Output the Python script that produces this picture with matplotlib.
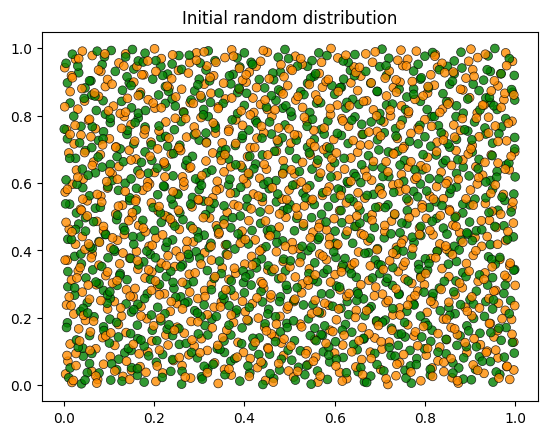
import numpy as np
import matplotlib
matplotlib.use("Agg")
import matplotlib.pyplot as plt

# agent positions (x, y pairs, in thousandths)
orange_xy = [
    4,33, 18,8, 62,41, 75,17, 131,26, 150,44, 204,11, 219,36, 281,21, 342,5, 356,47, 371,30, 447,14, 498,42, 509,24, 563,9, 611,38, 627,19, 702,46, 718,2, 736,28, 791,13, 842,40, 860,22, 874,6, 931,35, 988,17, 997,45,
    9,71, 27,94, 88,62, 103,85, 169,55, 186,99, 243,73, 262,58, 277,90, 334,66, 398,97, 413,79, 429,52, 487,88, 541,61, 558,83, 600,95, 647,54, 660,76, 679,98, 744,67, 803,89, 816,51, 829,72, 893,97, 907,60, 962,81, 981,55,
    14,122, 71,108, 86,141, 113,118, 195,131, 212,104, 226,149, 289,116, 305,138, 318,103, 386,127, 452,111, 467,144, 482,125, 539,102, 556,136, 618,119, 689,140, 705,107, 721,128, 776,146, 833,113, 848,135, 923,120, 938,101, 953,143, 997,128,
    33,167, 48,192, 59,158, 121,180, 138,156, 184,197, 251,172, 267,154, 282,189, 361,163, 376,186, 431,199, 445,172, 460,152, 524,181, 590,163, 604,194, 661,171, 676,152, 693,188, 762,179, 779,158, 841,196, 858,171, 872,150, 945,183, 961,162, 992,195,
    6,238, 22,211, 97,226, 112,248, 128,205, 171,233, 236,219, 251,242, 318,209, 333,231, 349,247, 402,218, 418,242, 479,204, 495,226, 510,248, 571,214, 587,237, 648,222, 714,245, 729,208, 744,229, 805,216, 820,241, 889,231, 904,206, 963,243, 978,222,
    41,276, 57,255, 72,298, 139,283, 154,262, 208,294, 223,271, 297,257, 312,281, 327,299, 378,265, 443,288, 458,259, 527,274, 542,297, 557,252, 612,283, 627,263, 691,291, 706,270, 769,255, 784,279, 799,298, 867,268, 883,289, 942,257, 957,281, 1000,296,
    17,312, 32,339, 93,325, 108,303, 164,344, 180,318, 195,336, 263,305, 278,329, 351,348, 366,314, 381,332, 437,307, 452,342, 513,321, 528,300, 544,345, 601,328, 616,349, 676,311, 741,337, 756,315, 771,302, 838,346, 853,322, 918,308, 933,333, 982,318,
    8,371, 63,389, 78,356, 146,377, 161,397, 216,362, 231,384, 246,352, 312,393, 327,371, 401,359, 416,382, 471,396, 486,367, 501,351, 567,389, 582,372, 638,357, 653,395, 722,369, 737,388, 752,354, 813,376, 828,398, 892,361, 907,385, 966,373, 988,355,
    26,418, 41,441, 104,407, 119,430, 134,447, 189,412, 204,436, 272,403, 287,425, 343,448, 358,416, 424,431, 439,404, 454,446, 506,423, 521,405, 589,437, 604,414, 659,449, 674,428, 737,409, 752,432, 818,446, 833,419, 848,403, 911,438, 926,412, 979,429,
    12,463, 73,486, 88,458, 151,499, 166,474, 181,455, 241,481, 256,462, 323,496, 338,473, 395,457, 410,488, 477,469, 492,498, 552,454, 567,479, 582,461, 633,492, 648,471, 711,456, 726,487, 788,466, 803,495, 862,475, 877,453, 943,489, 958,468, 996,481,
    37,522, 52,547, 115,508, 130,534, 194,541, 209,517, 224,503, 284,529, 299,549, 362,513, 377,536, 440,545, 455,521, 518,504, 533,532, 548,547, 611,518, 626,541, 683,506, 698,529, 764,546, 779,512, 794,535, 854,521, 869,501, 934,539, 949,516, 993,528,
    3,573, 19,596, 82,561, 97,585, 160,552, 175,578, 190,597, 251,569, 266,591, 330,556, 345,583, 405,598, 420,567, 484,552, 499,579, 514,596, 573,563, 588,588, 652,571, 667,555, 729,594, 744,576, 811,561, 826,589, 841,553, 901,579, 916,597, 974,566,
    28,638, 43,612, 107,627, 122,649, 186,603, 201,631, 263,618, 278,644, 340,605, 355,633, 370,648, 434,614, 449,641, 511,627, 526,603, 591,646, 606,621, 667,637, 682,608, 748,625, 763,647, 778,611, 836,632, 851,606, 913,648, 928,623, 987,639,
    11,689, 66,662, 81,684, 145,697, 160,671, 223,657, 238,686, 253,699, 315,665, 330,689, 392,652, 407,678, 471,694, 486,666, 546,683, 561,658, 576,699, 636,674, 651,691, 714,663, 729,688, 791,651, 806,676, 869,696, 884,668, 947,683, 962,659, 999,692,
    23,716, 38,742, 101,731, 116,707, 178,745, 193,721, 257,703, 272,736, 336,748, 351,719, 413,705, 428,733, 443,749, 503,718, 518,741, 583,707, 598,729, 661,744, 676,713, 739,732, 754,708, 769,747, 827,721, 842,743, 905,711, 920,737, 981,725,
    6,758, 55,786, 70,761, 134,797, 149,773, 211,754, 226,781, 289,766, 304,794, 366,759, 381,787, 396,771, 461,798, 476,763, 539,782, 554,756, 616,791, 631,768, 694,753, 709,781, 724,799, 785,764, 800,788, 864,772, 879,756, 941,795, 956,769, 993,783,
    31,819, 46,843, 110,828, 125,806, 187,847, 202,822, 265,811, 280,838, 343,826, 358,849, 421,809, 436,833, 451,818, 514,846, 529,824, 591,803, 606,831, 671,844, 686,817, 748,829, 763,806, 778,848, 839,819, 854,840, 916,808, 931,831, 975,847,
    14,871, 77,857, 92,886, 155,899, 170,869, 233,882, 248,855, 311,893, 326,866, 389,878, 404,899, 419,852, 481,871, 496,889, 558,861, 573,884, 636,897, 651,874, 715,858, 730,883, 745,899, 806,867, 821,890, 884,876, 899,853, 962,888, 977,866,
    2,942, 17,918, 82,931, 97,907, 162,946, 177,921, 239,909, 254,934, 317,947, 332,918, 396,905, 411,929, 426,946, 488,915, 503,938, 566,925, 581,901, 643,944, 658,917, 721,932, 736,906, 751,948, 813,921, 828,943, 891,911, 906,936, 968,924,
    26,967, 41,991, 63,978, 122,956, 137,983, 201,998, 216,969, 279,957, 294,986, 357,972, 372,995, 436,961, 451,988, 513,976, 528,952, 592,999, 607,971, 669,983, 684,958, 747,994, 762,967, 823,981, 838,955, 902,997, 917,972, 979,986, 994,961,
    21,14, 7,88, 35,131, 44,207, 12,262, 29,318, 3,371, 47,403, 18,455, 39,519, 8,581, 31,617, 46,690, 14,744, 25,771, 2,826, 40,880, 19,912, 33,969, 42,552, 27,58, 5,483, 36,349, 16,236,
    71,27, 58,103, 93,146, 66,190, 82,251, 54,297, 97,336, 61,378, 79,424, 88,471, 52,502, 74,566, 95,604, 63,652, 86,713, 57,789, 99,814, 68,867, 77,935, 91,983, 60,737, 84,543, 73,6, 55,419,
    113,42, 139,71, 104,155, 126,229, 147,264, 118,310, 131,392, 108,437, 144,488, 121,531, 136,575, 102,633, 149,668, 115,706, 128,762, 141,851, 107,893, 133,947, 146,17, 119,611, 137,810, 124,360,
    167,93, 182,38, 154,121, 199,176, 171,205, 158,287, 188,342, 163,369, 196,415, 176,466, 152,512, 185,588, 169,626, 191,679, 157,724, 180,758, 198,837, 165,859, 173,921, 186,962, 159,546, 194,281,
    207,57, 231,119, 245,163, 214,199, 238,248, 203,309, 227,355, 249,398, 219,446, 236,493, 211,530, 242,574, 224,618, 208,701, 233,733, 247,792, 216,823, 229,887, 204,931, 241,980, 222,662, 212,268,
    269,24, 256,82, 284,134, 297,188, 263,226, 279,276, 291,333, 258,381, 273,427, 286,464, 254,519, 298,551, 266,603, 281,647, 259,696, 293,747, 270,791, 287,836, 261,878, 276,926, 294,964, 255,705,
    318,37, 302,96, 341,118, 329,170, 347,232, 313,263, 335,322, 304,359, 326,412, 344,452, 309,497, 321,545, 338,578, 306,622, 349,667, 316,719, 331,778, 342,821, 303,859, 324,913, 337,958, 311,989,
    366,48, 384,83, 352,141, 371,208, 396,249, 359,283, 378,347, 363,386, 391,421, 355,478, 387,531, 369,569, 398,612, 357,684, 381,717, 365,753, 393,814, 372,852, 354,896, 389,940, 376,976,
    411,26, 437,69, 424,127, 449,161, 406,194, 428,259, 441,301, 418,356, 434,398, 402,432, 447,487, 415,523, 431,561, 409,629, 444,655, 423,705, 438,768, 413,802, 446,846, 427,883, 404,921, 442,993,
    464,9, 476,64, 453,108, 488,137, 471,181, 497,234, 459,268, 483,319, 466,344, 491,412, 457,443, 478,508, 494,551, 462,586, 485,627, 452,683, 473,727, 499,761, 468,817, 486,864, 455,909, 481,951,
    518,41, 536,93, 503,116, 527,173, 549,212, 512,255, 541,311, 523,364, 507,402, 546,437, 531,479, 515,526, 538,584, 504,639, 529,661, 547,719, 511,743, 533,795, 519,857, 544,892, 506,934, 525,969,
    568,27, 553,71, 581,124, 596,159, 562,219, 578,243, 591,306, 557,327, 574,383, 588,417, 565,468, 599,494, 551,551, 583,575, 569,629, 594,672, 556,708, 577,763, 590,821, 563,846, 586,907, 571,958,
    617,12, 603,57, 638,99, 621,148, 646,201, 609,226, 632,272, 615,336, 644,363, 607,418, 628,457, 649,502, 613,563, 636,605, 622,641, 604,689, 641,726, 618,784, 633,829, 608,871, 647,928, 625,979,
    662,31, 681,79, 654,132, 697,177, 671,221, 688,265, 658,298, 679,354, 694,402, 665,445, 683,489, 652,532, 699,579, 671,619, 686,664, 657,712, 676,751, 693,799, 664,842, 681,897, 655,943, 690,989,
    714,19, 738,62, 703,129, 727,163, 745,208, 719,251, 736,286, 708,343, 729,392, 748,421, 711,474, 733,508, 705,567, 742,598, 718,633, 731,686, 702,739, 746,772, 723,816, 737,869, 712,911, 740,964,
    769,39, 753,91, 784,117, 797,174, 762,237, 778,266, 791,319, 756,365, 773,406, 788,447, 765,497, 794,526, 758,581, 782,617, 769,663, 751,702, 787,758, 764,812, 796,858, 772,901, 759,947, 781,991,
    817,26, 842,68, 806,109, 829,153, 848,196, 813,249, 836,284, 802,331, 824,378, 846,413, 811,459, 834,503, 819,552, 847,598, 803,644, 826,693, 841,727, 815,768, 833,809, 807,886, 844,927, 822,976,
    872,13, 858,79, 889,126, 866,167, 894,219, 853,246, 877,303, 898,338, 861,387, 884,424, 869,471, 855,517, 891,553, 874,611, 859,652, 896,686, 866,736, 883,791, 851,834, 879,878, 863,929, 897,961,
    917,44, 936,97, 909,138, 943,183, 921,229, 904,262, 931,314, 949,351, 913,399, 938,441, 925,488, 907,534, 946,569, 919,616, 933,661, 902,701, 941,748, 914,792, 928,831, 947,873, 909,916, 934,982,
    964,21, 982,56, 957,104, 993,151, 971,197, 999,236, 953,279, 977,326, 989,362, 961,418, 984,456, 968,507, 995,543, 956,594, 978,641, 991,679, 962,723, 985,777, 969,824, 997,861, 954,903, 981,948,
]

green_xy = [
    11,22, 39,4, 52,37, 104,15, 117,46, 163,29, 178,9, 237,41, 261,3, 305,25, 319,48, 390,12, 412,36, 465,20, 478,45, 534,31, 548,3, 584,17, 652,40, 666,10, 680,27, 756,44, 770,6, 812,30, 885,18, 912,47, 951,9, 966,32,
    43,86, 57,64, 122,77, 135,96, 150,52, 205,68, 219,91, 296,81, 311,56, 356,97, 370,71, 441,63, 456,92, 505,74, 520,53, 575,99, 589,69, 619,82, 694,61, 725,88, 768,57, 782,79, 847,93, 862,66, 875,51, 921,84, 945,70, 998,95,
    28,134, 42,110, 57,147, 101,125, 149,103, 164,138, 178,116, 241,147, 256,121, 340,108, 355,131, 370,149, 419,116, 433,140, 497,104, 511,132, 573,148, 587,113, 602,129, 650,105, 665,137, 741,118, 756,143, 799,108, 813,130, 878,146, 892,114, 969,133,
    8,185, 88,173, 102,196, 148,153, 163,178, 215,191, 229,166, 298,152, 313,177, 328,196, 395,170, 409,191, 480,158, 494,183, 542,197, 556,169, 570,150, 624,180, 638,157, 712,193, 726,169, 741,151, 801,186, 816,163, 893,176, 908,198, 922,154, 980,171,
    37,219, 52,245, 67,203, 150,217, 164,240, 194,208, 208,231, 275,247, 290,221, 304,203, 366,236, 381,214, 440,247, 454,225, 469,203, 552,239, 566,215, 614,228, 628,248, 667,206, 681,233, 760,219, 775,241, 790,205, 853,231, 867,212, 935,248, 950,226,
    9,292, 24,267, 88,281, 103,258, 118,296, 185,271, 244,287, 259,262, 273,299, 355,256, 370,282, 400,274, 415,297, 480,262, 495,284, 510,251, 590,271, 604,294, 650,278, 664,256, 728,296, 743,271, 817,262, 832,288, 900,254, 914,279, 975,272, 990,251,
    49,318, 64,342, 78,301, 125,331, 140,313, 212,347, 227,322, 242,305, 318,340, 333,317, 398,304, 412,329, 427,348, 476,316, 491,339, 562,307, 576,332, 633,345, 648,320, 700,331, 714,306, 729,349, 791,324, 806,341, 869,309, 884,334, 950,319, 999,343,
    24,382, 39,360, 98,378, 113,397, 177,366, 192,388, 263,357, 278,377, 293,396, 345,368, 360,389, 438,375, 453,354, 526,381, 541,399, 556,363, 603,379, 618,357, 675,393, 690,371, 771,386, 786,358, 801,375, 855,394, 870,367, 941,381, 956,359,
    9,433, 63,406, 78,426, 92,447, 155,418, 170,440, 226,409, 241,431, 311,445, 326,421, 379,404, 394,438, 409,419, 470,447, 485,428, 548,409, 563,432, 625,446, 640,421, 695,405, 710,437, 776,423, 791,444, 865,412, 880,431, 895,448, 945,417, 996,440,
    33,478, 48,457, 117,491, 132,468, 201,459, 216,483, 231,499, 281,472, 296,455, 355,491, 370,467, 436,480, 451,459, 516,495, 531,472, 601,457, 616,482, 673,497, 688,468, 745,452, 760,479, 826,495, 841,466, 899,484, 914,458, 975,473,
    13,537, 28,511, 70,525, 146,548, 161,520, 242,536, 257,511, 310,546, 325,524, 391,502, 406,530, 471,544, 486,518, 501,536, 571,507, 586,530, 641,545, 656,519, 718,535, 733,506, 810,527, 825,544, 884,511, 899,535, 962,519, 977,548,
    42,586, 57,562, 121,578, 136,599, 208,565, 223,589, 285,557, 300,580, 365,594, 380,571, 440,557, 455,583, 530,570, 545,592, 600,555, 615,578, 630,599, 686,566, 701,586, 760,553, 775,575, 790,597, 855,569, 870,588, 935,556, 950,581, 997,567,
    5,609, 70,630, 85,647, 149,612, 164,636, 227,648, 242,621, 301,606, 316,630, 395,645, 410,624, 470,607, 485,629, 550,641, 565,617, 628,604, 643,628, 705,645, 720,619, 795,639, 810,613, 870,628, 885,647, 945,607, 960,634, 1000,618,
    26,673, 48,696, 103,655, 118,678, 180,692, 195,667, 270,653, 285,679, 350,696, 365,671, 425,656, 440,683, 500,697, 515,672, 585,686, 600,660, 660,654, 675,681, 740,694, 755,667, 825,683, 840,659, 905,692, 920,670, 980,653,
    8,731, 62,705, 77,726, 140,744, 155,716, 215,735, 230,709, 300,727, 315,748, 380,711, 395,732, 460,745, 475,720, 540,706, 555,729, 615,741, 630,717, 695,728, 710,749, 785,716, 800,737, 855,706, 870,729, 935,745, 950,718, 999,735,
    38,768, 88,752, 103,779, 165,793, 180,766, 245,758, 260,782, 320,797, 335,771, 410,757, 425,785, 490,772, 505,798, 570,759, 585,784, 645,796, 660,774, 735,761, 750,786, 815,797, 830,770, 895,754, 910,781, 970,766,
    14,837, 72,815, 87,844, 150,823, 165,807, 225,836, 240,849, 310,818, 325,839, 385,806, 400,830, 470,845, 485,822, 545,809, 560,837, 625,822, 640,848, 700,806, 715,831, 790,842, 805,818, 870,829, 885,807, 945,838, 960,818, 999,846,
    47,882, 62,861, 130,875, 145,897, 210,861, 225,886, 290,873, 305,852, 370,894, 385,868, 445,882, 460,859, 525,871, 540,896, 600,863, 615,884, 680,896, 695,871, 760,855, 775,879, 840,865, 855,893, 920,874, 935,852, 994,869,
    33,927, 60,903, 140,915, 155,938, 215,947, 230,923, 300,908, 315,935, 375,922, 390,944, 465,906, 480,929, 540,946, 555,917, 620,908, 635,934, 700,945, 715,919, 775,932, 790,908, 850,946, 865,924, 930,905, 945,931, 998,919,
    5,955, 90,974, 105,993, 165,962, 180,985, 240,953, 255,978, 320,992, 335,963, 400,986, 415,958, 475,973, 490,996, 550,963, 565,986, 630,958, 645,981, 705,997, 720,970, 785,952, 800,976, 865,962, 880,988, 940,977, 955,999,
    14,51, 32,112, 6,171, 43,228, 24,289, 9,337, 38,389, 17,432, 48,497, 4,538, 29,596, 41,641, 13,673, 35,719, 22,798, 45,851, 8,897, 31,947, 19,982, 47,15, 26,462, 1,760,
    78,36, 62,94, 89,162, 53,214, 96,243, 71,306, 84,352, 58,411, 93,447, 66,485, 81,528, 98,589, 54,623, 76,677, 87,731, 63,767, 92,804, 69,858, 57,903, 85,951, 74,991, 97,268,
    129,12, 106,63, 143,109, 117,186, 138,241, 102,277, 124,326, 148,376, 111,402, 135,459, 119,504, 146,556, 107,607, 132,663, 125,701, 141,756, 103,792, 128,842, 149,889, 114,931, 137,974, 121,143,
    163,49, 188,87, 171,134, 196,163, 155,224, 179,257, 192,314, 166,357, 184,398, 153,441, 175,489, 198,527, 161,584, 187,629, 172,661, 194,713, 158,779, 181,815, 169,862, 197,908, 176,959, 152,996,
    218,23, 241,76, 206,132, 233,179, 224,212, 248,261, 212,299, 237,338, 203,378, 229,424, 246,472, 214,511, 238,553, 221,591, 207,644, 243,687, 226,738, 211,769, 247,828, 232,872, 219,919, 204,963,
    262,41, 283,97, 271,124, 255,168, 296,214, 268,243, 287,307, 259,351, 276,388, 298,437, 264,491, 281,537, 253,566, 292,612, 273,667, 257,712, 289,743, 266,809, 282,846, 297,891, 261,937, 278,979,
    307,18, 331,62, 346,106, 319,149, 338,204, 311,238, 327,283, 349,331, 301,377, 322,408, 341,463, 314,506, 333,539, 305,593, 328,638, 347,681, 316,721, 336,763, 309,802, 344,867, 323,903, 302,956,
    357,31, 379,79, 394,123, 366,178, 383,223, 352,267, 371,309, 397,339, 361,417, 386,449, 374,497, 355,532, 392,587, 368,611, 381,654, 359,699, 396,741, 373,787, 353,836, 388,881, 367,918, 384,971,
    408,57, 432,91, 419,139, 446,182, 411,231, 437,278, 403,321, 426,364, 448,411, 417,459, 435,514, 406,553, 443,596, 421,642, 412,679, 439,733, 428,778, 449,825, 405,866, 433,907, 418,952, 441,2,
    457,34, 482,77, 469,129, 495,171, 452,211, 478,248, 493,296, 461,337, 487,374, 472,423, 459,462, 496,523, 474,567, 453,604, 489,643, 467,694, 484,734, 456,781, 492,829, 476,876, 463,926, 498,969,
    513,15, 538,58, 524,102, 546,147, 509,191, 531,238, 517,289, 543,331, 502,369, 528,412, 511,458, 549,497, 536,556, 507,593, 522,634, 544,689, 515,727, 539,768, 503,811, 532,862, 547,911, 518,947,
    562,42, 587,89, 559,132, 578,176, 596,234, 571,271, 552,313, 584,343, 598,396, 566,439, 581,484, 555,536, 574,571, 592,618, 563,668, 589,704, 577,745, 551,789, 569,838, 594,889, 558,924, 583,978,
    626,37, 604,77, 642,121, 617,163, 631,209, 649,251, 611,291, 637,331, 623,376, 602,421, 645,471, 614,518, 633,554, 608,582, 647,619, 621,673, 606,747, 638,786, 627,839, 612,883, 644,918, 619,962,
    671,8, 658,52, 689,94, 664,139, 693,191, 676,226, 652,271, 684,318, 697,358, 667,391, 679,436, 656,481, 691,527, 672,563, 658,601, 685,649, 698,698, 663,744, 681,781, 654,833, 694,872, 669,931,
    709,42, 734,86, 721,112, 748,152, 706,187, 729,227, 742,269, 717,317, 703,356, 738,401, 725,449, 749,481, 712,527, 731,572, 707,619, 745,653, 719,692, 736,739, 702,786, 728,834, 743,878, 714,948,
    758,21, 781,61, 767,103, 793,143, 755,186, 776,238, 798,276, 763,309, 787,344, 752,398, 772,439, 791,471, 761,518, 784,559, 753,605, 778,639, 796,684, 766,723, 789,771, 757,818, 775,863, 792,912,
    812,47, 829,98, 847,136, 806,177, 834,221, 818,272, 843,308, 809,361, 827,397, 849,448, 816,486, 838,533, 804,576, 831,612, 846,667, 813,709, 836,749, 821,797, 848,841, 808,882, 832,936, 817,987,
    862,36, 886,81, 871,118, 897,161, 855,207, 879,239, 864,277, 891,322, 852,359, 876,401, 893,452, 867,498, 884,537, 858,582, 898,621, 873,669, 851,716, 888,758, 869,797, 895,849, 861,902, 882,941,
    903,16, 927,71, 914,114, 946,156, 932,204, 908,241, 939,297, 921,327, 948,373, 905,429, 926,461, 942,512, 911,552, 935,603, 918,642, 949,681, 904,728, 933,763, 922,817, 943,854, 907,893, 938,936,
    958,39, 976,83, 994,127, 964,169, 987,212, 952,253, 978,297, 997,341, 966,379, 983,433, 955,471, 991,514, 971,558, 959,617, 986,659, 999,701, 964,746, 979,791, 953,829, 992,877, 969,924, 987,969,
]

orange = np.array(orange_xy).reshape(-1, 2) / 1000
green = np.array(green_xy).reshape(-1, 2) / 1000

# mix the two groups so neither one is always drawn on top
pts = []
cols = []
n = max(len(orange), len(green))
for i in range(n):
    if i < len(orange):
        pts.append(orange[i]); cols.append('darkorange')
    if i < len(green):
        pts.append(green[i]); cols.append('green')
pts = np.array(pts)

fig, ax = plt.subplots(figsize=(6.4, 4.8), dpi=100)
ax.scatter(pts[:, 0], pts[:, 1], c=cols, edgecolors='k', linewidths=0.5, alpha=0.8, s=40)
ax.set_title("Initial random distribution")
plt.savefig("out.png", dpi=100, bbox_inches='tight')
